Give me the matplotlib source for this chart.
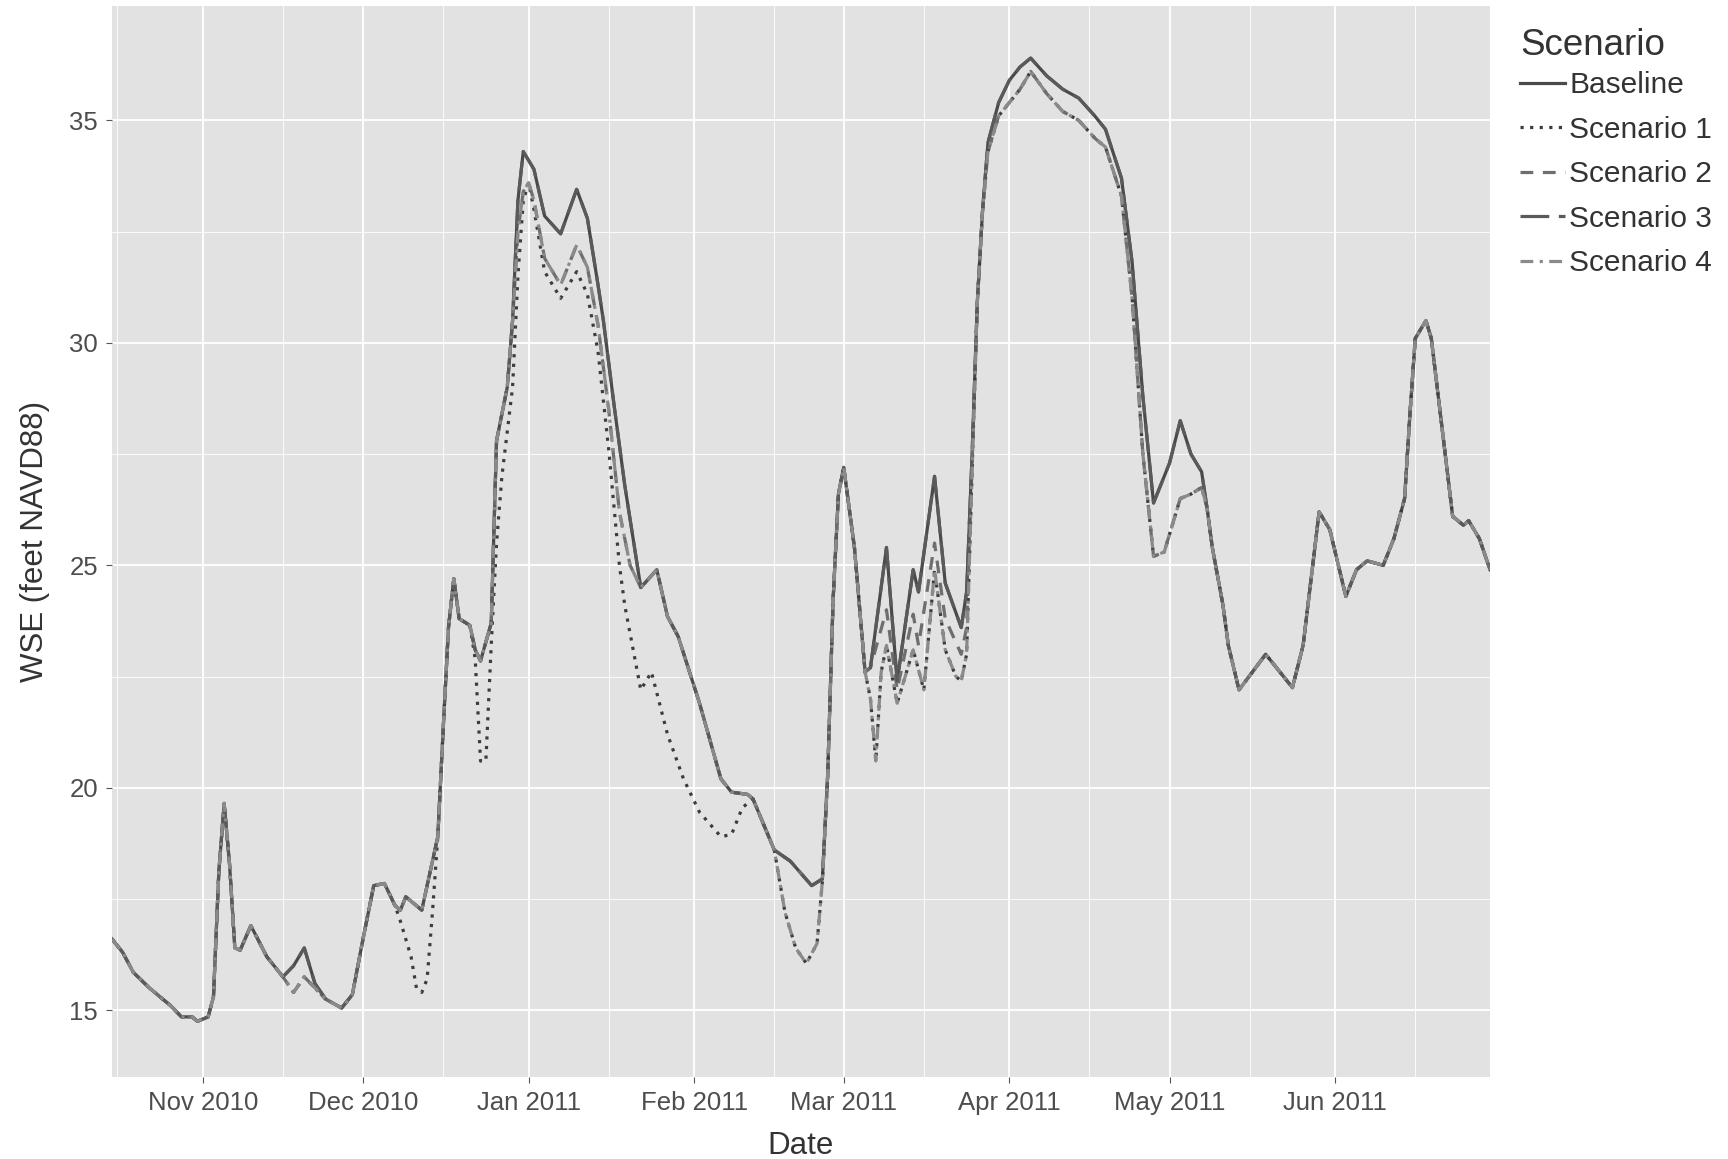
import matplotlib
matplotlib.use("Agg")
import matplotlib.pyplot as plt
import matplotlib.dates as mdates
import pandas as pd

# Baseline water surface elevation
base_dates = ["2010-10-15", "2010-10-17", "2010-10-19", "2010-10-22", "2010-10-24", "2010-10-26",
              "2010-10-28", "2010-10-30", "2010-10-31", "2010-11-02", "2010-11-03", "2010-11-04",
              "2010-11-05", "2010-11-06", "2010-11-07", "2010-11-08", "2010-11-10", "2010-11-13",
              "2010-11-16", "2010-11-18", "2010-11-20", "2010-11-22", "2010-11-24", "2010-11-27",
              "2010-11-29", "2010-12-01", "2010-12-03", "2010-12-05", "2010-12-07", "2010-12-08",
              "2010-12-09", "2010-12-12", "2010-12-13", "2010-12-15", "2010-12-16", "2010-12-17",
              "2010-12-18", "2010-12-19", "2010-12-21", "2010-12-22", "2010-12-23", "2010-12-25",
              "2010-12-26", "2010-12-28", "2010-12-29", "2010-12-30", "2010-12-31", "2011-01-02",
              "2011-01-04", "2011-01-07", "2011-01-10", "2011-01-12", "2011-01-14", "2011-01-15",
              "2011-01-17", "2011-01-19", "2011-01-22", "2011-01-25", "2011-01-27", "2011-01-29",
              "2011-02-02", "2011-02-06", "2011-02-08", "2011-02-11", "2011-02-12", "2011-02-16",
              "2011-02-19", "2011-02-23", "2011-02-25", "2011-02-26", "2011-02-27", "2011-02-28",
              "2011-03-01", "2011-03-03", "2011-03-05", "2011-03-06", "2011-03-09", "2011-03-11",
              "2011-03-14", "2011-03-15", "2011-03-18", "2011-03-20", "2011-03-23", "2011-03-24",
              "2011-03-25", "2011-03-26", "2011-03-27", "2011-03-28", "2011-03-30", "2011-04-01",
              "2011-04-03", "2011-04-05", "2011-04-08", "2011-04-11", "2011-04-14", "2011-04-17",
              "2011-04-19", "2011-04-22", "2011-04-24", "2011-04-26", "2011-04-28", "2011-05-01",
              "2011-05-03", "2011-05-05", "2011-05-07", "2011-05-08", "2011-05-09", "2011-05-11",
              "2011-05-12", "2011-05-14", "2011-05-19", "2011-05-24", "2011-05-26", "2011-05-29",
              "2011-05-31", "2011-06-03", "2011-06-05", "2011-06-07", "2011-06-10", "2011-06-12",
              "2011-06-14", "2011-06-15", "2011-06-16", "2011-06-18", "2011-06-19", "2011-06-21",
              "2011-06-23", "2011-06-25", "2011-06-26", "2011-06-28", "2011-06-30"]
base_wse = [16.6, 16.3, 15.85, 15.5, 15.3, 15.1,
            14.85, 14.85, 14.75, 14.85, 15.3, 18.1,
            19.65, 18.3, 16.4, 16.35, 16.9, 16.2,
            15.75, 16.0, 16.4, 15.6, 15.25, 15.05,
            15.35, 16.6, 17.8, 17.85, 17.35, 17.25,
            17.55, 17.25, 17.8, 18.9, 21.3, 23.6,
            24.7, 23.8, 23.65, 23.1, 22.85, 23.7,
            27.8, 29.0, 30.5, 33.2, 34.3, 33.9,
            32.85, 32.45, 33.45, 32.8, 31.3, 30.5,
            28.6, 26.8, 24.5, 24.9, 23.85, 23.4,
            21.9, 20.2, 19.9, 19.85, 19.75, 18.6,
            18.35, 17.8, 17.95, 20.3, 24.2, 26.6,
            27.2, 25.4, 22.6, 22.7, 25.4, 22.4,
            24.9, 24.4, 27.0, 24.6, 23.6, 24.4,
            27.4, 30.9, 33.0, 34.5, 35.4, 35.9,
            36.2, 36.4, 36.0, 35.7, 35.5, 35.1,
            34.8, 33.7, 31.8, 28.8, 26.4, 27.3,
            28.25, 27.5, 27.1, 26.3, 25.4, 24.1,
            23.2, 22.2, 23.0, 22.25, 23.2, 26.2,
            25.8, 24.3, 24.9, 25.1, 25.0, 25.6,
            26.5, 28.4, 30.1, 30.5, 30.1, 28.1,
            26.1, 25.9, 26.0, 25.6, 24.9]

# Stretches where the scenarios leave the baseline
nov_low_dates = ["2010-11-16", "2010-11-18", "2010-11-20", "2010-11-22", "2010-11-24"]
nov_low_wse = [15.75, 15.4, 15.75, 15.5, 15.25]

s1_dec_dates = ["2010-12-07", "2010-12-08", "2010-12-10", "2010-12-11", "2010-12-12",
                "2010-12-13", "2010-12-14", "2010-12-15"]
s1_dec_wse = [17.35, 17.0, 16.2, 15.5, 15.4, 15.7, 17.2, 18.9]

s1_jan_dates = ["2010-12-21", "2010-12-22", "2010-12-23", "2010-12-24", "2010-12-25",
                "2010-12-26", "2010-12-27", "2010-12-28", "2010-12-29", "2010-12-30",
                "2010-12-31", "2011-01-01", "2011-01-02", "2011-01-04", "2011-01-07",
                "2011-01-10", "2011-01-12", "2011-01-14", "2011-01-16", "2011-01-18",
                "2011-01-19", "2011-01-22", "2011-01-24", "2011-01-27", "2011-01-30",
                "2011-02-02", "2011-02-06", "2011-02-08", "2011-02-10", "2011-02-12"]
s1_jan_wse = [23.65, 22.9, 20.6, 20.6, 23.2,
              25.5, 27.0, 28.0, 29.0, 31.5,
              33.2, 33.6, 33.0, 31.6, 31.0,
              31.6, 31.1, 29.8, 27.6, 25.0,
              24.1, 22.2, 22.6, 21.2, 20.2,
              19.45, 18.9, 18.95, 19.55, 19.75]

s1_feb_dates = ["2011-02-16", "2011-02-18", "2011-02-20", "2011-02-22", "2011-02-24",
                "2011-02-25", "2011-02-26"]
s1_feb_wse = [18.6, 17.2, 16.4, 16.05, 16.5, 17.9, 20.3]

s1_mar_dates = ["2011-03-05", "2011-03-06", "2011-03-07", "2011-03-08", "2011-03-09",
                "2011-03-11", "2011-03-14", "2011-03-16", "2011-03-18", "2011-03-20",
                "2011-03-22", "2011-03-23", "2011-03-24", "2011-03-25", "2011-03-26"]
s1_mar_wse = [22.6, 22.0, 20.6, 22.6, 23.2,
              21.9, 23.1, 22.2, 24.9, 23.1,
              22.5, 22.4, 23.0, 27.0, 30.9]

mid_jan_dates = ["2010-12-29", "2010-12-30", "2010-12-31", "2011-01-01", "2011-01-02",
                 "2011-01-04", "2011-01-07", "2011-01-10", "2011-01-12", "2011-01-14",
                 "2011-01-16", "2011-01-18", "2011-01-20", "2011-01-22"]
mid_jan_wse = [30.5, 32.5, 33.4, 33.6, 33.2,
               31.9, 31.3, 32.2, 31.7, 30.4,
               28.5, 26.2, 25.0, 24.5]

mid_mar_dates = ["2011-03-06", "2011-03-09", "2011-03-11", "2011-03-14", "2011-03-15",
                 "2011-03-18", "2011-03-20", "2011-03-23", "2011-03-24", "2011-03-25"]
mid_mar_wse = [22.7, 24.0, 22.2, 23.9, 23.2, 25.5, 23.8, 23.0, 23.6, 27.2]

apr_low_dates = ["2011-03-28", "2011-03-30", "2011-04-01", "2011-04-03", "2011-04-05",
                 "2011-04-08", "2011-04-11", "2011-04-14", "2011-04-17", "2011-04-19",
                 "2011-04-22", "2011-04-24", "2011-04-26", "2011-04-28", "2011-04-30",
                 "2011-05-03", "2011-05-05", "2011-05-07", "2011-05-08"]
apr_low_wse = [34.3, 35.1, 35.4, 35.7, 36.1,
               35.6, 35.2, 35.0, 34.6, 34.4,
               33.3, 31.0, 27.5, 25.2, 25.3,
               26.5, 26.6, 26.75, 26.3]

labels = ["Baseline", "Scenario 1", "Scenario 2", "Scenario 3", "Scenario 4"]
colors = ["#4a4a4a", "#3c3c3c", "#6e6e6e", "#5a5a5a", "#8a8a8a"]
styles = ["solid", (0, (1, 2)), (0, (4, 3)), (0, (9, 3)), (0, (4, 2, 1, 2))]

base = pd.Series(base_wse, index=pd.to_datetime(base_dates))


def splice(segments):
    s = base.copy()
    for d, v in segments:
        seg = pd.Series(v, index=pd.to_datetime(d))
        s = s[(s.index < seg.index[0]) | (s.index > seg.index[-1])]
        s = pd.concat([s, seg]).sort_index()
    return s


nov = (nov_low_dates, nov_low_wse)
apr = (apr_low_dates, apr_low_wse)
series = [
    base,
    splice([nov, (s1_dec_dates, s1_dec_wse), (s1_jan_dates, s1_jan_wse),
            (s1_feb_dates, s1_feb_wse), (s1_mar_dates, s1_mar_wse), apr]),
    splice([nov, (mid_jan_dates, mid_jan_wse), (mid_mar_dates, mid_mar_wse), apr]),
    base,
    splice([nov, (mid_jan_dates, mid_jan_wse), (s1_feb_dates, s1_feb_wse),
            (s1_mar_dates, s1_mar_wse), apr]),
]

plt.rcParams['font.family'] = ['Liberation Sans', 'DejaVu Sans']

fig = plt.figure(figsize=(17.28, 11.59), dpi=100)
ax = fig.add_axes([0.0648, 0.0708, 0.7975, 0.924])
ax.set_facecolor("#e2e2e2")
for s in ax.spines.values():
    s.set_visible(False)

for s, lab, c, ls in zip(series, labels, colors, styles):
    ax.plot(s.index, s.values, color=c, linestyle=ls, linewidth=2.3, label=lab)

ax.set_xlim(base.index[0], base.index[-1])
ax.set_ylim(13.5, 37.57)
ax.set_yticks([15, 20, 25, 30, 35])
ax.set_yticks([17.5, 22.5, 27.5, 32.5], minor=True)
ax.xaxis.set_major_locator(mdates.MonthLocator())
ax.xaxis.set_major_formatter(mdates.DateFormatter("%b %Y"))
ax.xaxis.set_minor_locator(mdates.MonthLocator(bymonthday=16))
ax.grid(which="major", color="white", linewidth=1.3)
ax.grid(which="minor", color="white", linewidth=0.6)
ax.set_axisbelow(True)
ax.tick_params(which="major", length=4, color="#555555", labelsize=18.5, labelcolor="#4d4d4d", pad=6)
ax.tick_params(which="minor", length=0)

ax.set_xlabel("Date", fontsize=22.5, color="#333333", labelpad=12)
ax.set_ylabel("WSE (feet NAVD88)", fontsize=22.5, color="#333333", labelpad=14)

leg = fig.legend(loc="upper left", bbox_to_anchor=(0.864, 0.999), frameon=False,
                 title="Scenario", fontsize=21.5, title_fontsize=26.5,
                 handlelength=1.5, handletextpad=0.15, labelspacing=0.55)
leg._legend_box.align = "left"
leg._legend_box.sep = 6
for t in leg.get_texts():
    t.set_color("#333333")
leg.get_title().set_color("#333333")

fig.savefig("out.png", dpi=100)
